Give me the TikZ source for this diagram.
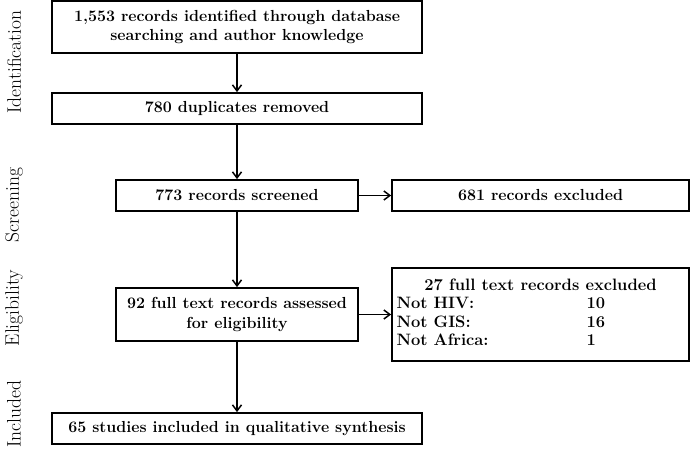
\documentclass[tikz,border=0pt]{standalone}
\usepackage{fontspec}
\usetikzlibrary{arrows.meta}

\begin{document}
\begin{tikzpicture}[x = 1pt, y = -1pt,
    recbox/.style = {draw, line width = 1.8pt, inner sep = 0pt, align = center,
        font = \fontsize{16}{19.5}\selectfont\bfseries},
    stage/.style = {rotate = 90, inner sep = 0pt, font = \fontsize{19.5}{21}\selectfont},
    flow/.style = {-{Straight Barb[length = 6pt, width = 9pt]}, line width = 1.5pt}]
        \useasboundingbox (0,0) rectangle (691,459);
        % phases
        \node[stage] (ident)  at (14,62)  {Identification};
        \node[stage] (screen) at (14,205) {Screening};
        \node[stage] (elig)   at (14,308) {Eligibility};
        \node[stage] (incl)   at (14,414) {Included};
        % boxes
        \node[recbox, minimum width = 370pt, minimum height = 52pt] (found) at (237,27)
            {1,553 records identified through database\\searching and author knowledge};
        \node[recbox, minimum width = 370pt, minimum height = 31pt] (dupl) at (237,108.5)
            {780 duplicates removed};
        \node[recbox, minimum width = 242pt, minimum height = 31pt] (screened) at (237,195.5)
            {773 records screened};
        \node[recbox, minimum width = 297pt, minimum height = 31pt] (excl) at (540.5,195.5)
            {681 records excluded};
        \node[recbox, minimum width = 242pt, minimum height = 53pt] (full) at (237,314.5)
            {92 full text records assessed\\for eligibility};
        \node[recbox, minimum width = 297pt, minimum height = 93pt] (fullexcl) at (540.5,314.5)
            {\fontsize{16.5}{18.5}\selectfont\renewcommand{\arraystretch}{1}%
             \begin{tabular}{@{}p{178pt}p{98pt}@{}}
             \multicolumn{2}{c}{27 full text records excluded}\\
             Not HIV: & 10\\
             Not GIS: & 16\\
             Not Africa: & 1
             \end{tabular}};
        \node[recbox, minimum width = 370pt, minimum height = 31pt] (incstud) at (237,428.5)
            {65 studies included in qualitative synthesis};
        % arrows
        \draw[flow] (found) -- (dupl);
        \draw[flow] (dupl) -- (screened);
        \draw[flow] (screened) -- (excl);
        \draw[flow] (screened) -- (full);
        \draw[flow] (full) -- (fullexcl);
        \draw[flow] (full) -- (incstud);
\end{tikzpicture}
\end{document}
